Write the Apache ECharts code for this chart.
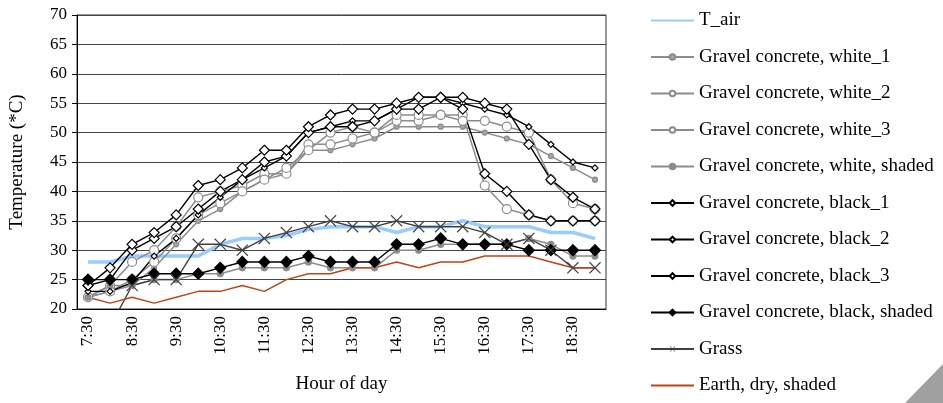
<!DOCTYPE html>
<html>
<head>
<meta charset="utf-8">
<script src="https://cdn.jsdelivr.net/npm/echarts@6/dist/echarts.min.js"></script>
<style>
  html, body { margin: 0; padding: 0; background: #fff; }
  #chart { width: 943px; height: 403px; }
</style>
</head>
<body>
<div id="chart"></div>
<script>
// half-hour readings, 7:30 .. 19:00
const hours = ["7:30", "8:00", "8:30", "9:00", "9:30", "10:00", "10:30", "11:00",
  "11:30", "12:00", "12:30", "13:00", "13:30", "14:00", "14:30", "15:00",
  "15:30", "16:00", "16:30", "17:00", "17:30", "18:00", "18:30", "19:00"];

const tAir = [28, 28, 29, 29, 29, 29, 31, 32, 32, 32.5, 33.5, 34, 34, 34, 33, 34, 34, 35, 34, 34, 34, 33, 33, 32];
const white1 = [22, 23, 24, 27, 31, 35, 37, 40, 42, 43, 47, 47, 48, 49, 51, 51, 51, 51, 50, 49, 48, 46, 44, 42];
const white2 = [22, 24, 28, 30, 34, 39, 40, 41, 43, 43, 48, 48, 49, 50, 52, 52, 53, 53, 41, 37, 36, 35, 35, 35];
const white3 = [22, 23, 25, 28, 32, 36, 38, 40, 42, 44, 47, 50, 51, 50, 53, 53, 53, 52, 52, 51, 50, 42, 38, 37];
const whiteShaded = [22, 24, 24, 25, 25, 26, 26, 27, 27, 27, 28, 27, 27, 27, 30, 30, 31, 31, 31, 31, 32, 31, 29, 29];
const black1 = [23, 23, 24.5, 29, 32, 36, 39, 42, 44, 46, 50, 51, 52, 52, 54, 56, 56, 55, 54, 53, 51, 48, 45, 44];
const black2 = [24, 25, 30, 32, 34, 37, 40, 42, 45, 46, 50, 51, 51, 52, 54, 54, 56, 54, 43, 40, 36, 35, 35, 35];
const black3 = [24, 27, 31, 33, 36, 41, 42, 44, 47, 47, 51, 53, 54, 54, 55, 56, 56, 56, 55, 54, 48, 42, 39, 37];
const blackShaded = [25, 25, 25, 26, 26, 26, 27, 28, 28, 28, 29, 28, 28, 28, 31, 31, 32, 31, 31, 31, 30, 30, 30, 30];
const grass = [16, 17, 24, 25, 25, 31, 31, 30, 32, 33, 34, 35, 34, 34, 35, 34, 34, 34, 33, 31, 32, 30, 27, 27];
const earth = [22, 21, 22, 21, 22, 23, 23, 24, 23, 25, 26, 26, 27, 27, 28, 27, 28, 28, 29, 29, 29, 28, 27, 27];

const serif = "Liberation Serif";
const xMark = "path://M0,0.7L0.7,0L5,4.3L9.3,0L10,0.7L5.7,5L10,9.3L9.3,10L5,5.7L0.7,10L0,9.3L4.3,5Z";

function grey(name, data, size, fill) {
  return {
    name: name, type: "line", data: data,
    symbol: "circle", symbolSize: size,
    lineStyle: { color: "#8c8c8c", width: 1.5 },
    itemStyle: { color: fill, borderColor: "#8c8c8c", borderWidth: 1.2 },
  };
}
function black(name, data, size, fill) {
  return {
    name: name, type: "line", data: data,
    symbol: "diamond", symbolSize: size,
    lineStyle: { color: "#000", width: 1.4 },
    itemStyle: { color: fill, borderColor: "#000", borderWidth: 1.2 },
  };
}

const chart = echarts.init(document.getElementById("chart"));
chart.setOption({
  animation: false,
  backgroundColor: "#fff",
  textStyle: { fontFamily: serif, color: "#000" },
  grid: {
    left: 72, right: 337, top: 15, bottom: 94,
    show: true, borderColor: "#333", borderWidth: 1,
  },
  legend: {
    orient: "vertical",
    left: 645,
    top: 6,
    itemWidth: 43,
    itemHeight: 7,
    itemGap: 17.5,
    textStyle: { fontFamily: serif, fontSize: 19, color: "#000" },
  },
  xAxis: {
    type: "category",
    data: hours,
    boundaryGap: true,
    name: "Hour of day",
    nameLocation: "middle",
    nameGap: 66,
    nameTextStyle: { fontFamily: serif, fontSize: 19, color: "#000" },
    axisLine: { lineStyle: { color: "#000", width: 1 } },
    axisTick: { interval: 0, length: 5, lineStyle: { color: "#000" } },
    axisLabel: {
      interval: 1, rotate: 90, margin: 7,
      fontFamily: serif, fontSize: 17, color: "#000",
    },
  },
  yAxis: {
    type: "value",
    min: 20, max: 70, interval: 5,
    name: "Temperature (*C)",
    nameLocation: "middle",
    nameGap: 50,
    nameTextStyle: { fontFamily: serif, fontSize: 19, color: "#000" },
    axisLine: { show: true, lineStyle: { color: "#000", width: 1 } },
    axisTick: { show: true, length: 5, lineStyle: { color: "#000" } },
    axisLabel: { margin: 10, fontFamily: serif, fontSize: 17, color: "#000" },
    splitLine: { lineStyle: { color: "#444", width: 1 } },
  },
  graphic: [{
    type: "polygon",
    shape: { points: [[905, 403], [943, 364], [943, 403]] },
    style: { fill: "#a0a0a0" },
  }],
  series: [
    {
      name: "T_air", type: "line", data: tAir, symbol: "none",
      lineStyle: { color: "#99ccff", width: 3.5 },
      itemStyle: { color: "#99ccff", opacity: 0 },
    },
    grey("Gravel concrete, white_1", white1, 5, "#a6a6a6"),
    grey("Gravel concrete, white_2", white2, 9, "#fff"),
    grey("Gravel concrete, white_3", white3, 9, "#fff"),
    grey("Gravel concrete, white, shaded", whiteShaded, 6, "#8c8c8c"),
    black("Gravel concrete, black_1", black1, 6, "#fff"),
    black("Gravel concrete, black_2", black2, 10, "#fff"),
    black("Gravel concrete, black_3", black3, 10, "#fff"),
    black("Gravel concrete, black, shaded", blackShaded, 11, "#000"),
    {
      name: "Grass", type: "line", data: grass,
      symbol: xMark, symbolSize: 12,
      lineStyle: { color: "#404040", width: 1.4 },
      itemStyle: { color: "#404040" },
    },
    {
      name: "Earth, dry, shaded", type: "line", data: earth, symbol: "none",
      lineStyle: { color: "#b5471a", width: 1.5 },
      itemStyle: { color: "#b5471a", opacity: 0 },
    },
  ],
});
</script>
</body>
</html>
